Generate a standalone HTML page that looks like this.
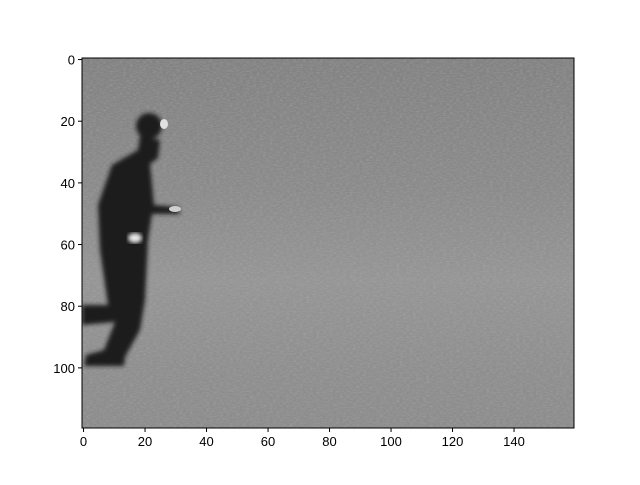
<!DOCTYPE html>
<html><head><meta charset="utf-8"><style>
body{margin:0;background:#fff;font-family:"Liberation Sans",sans-serif}
</style></head><body>
<svg width="640" height="480" xmlns="http://www.w3.org/2000/svg">
<defs>
<linearGradient id="bg" x1="0" y1="0" x2="0" y2="1">
<stop offset="0" stop-color="#828282"/><stop offset="0.35" stop-color="#8a8a8a"/>
<stop offset="0.6" stop-color="#959595"/><stop offset="0.85" stop-color="#8e8e8e"/><stop offset="1" stop-color="#8c8c8c"/>
</linearGradient>
<filter id="noise"><feTurbulence type="fractalNoise" baseFrequency="0.3 0.8" numOctaves="2" seed="3"/>
<feColorMatrix type="matrix" values="0 0 0 0 0.5 0 0 0 0 0.5 0 0 0 0 0.5 1.2 0 0 0 -0.45"/></filter>
<filter id="blur"><feGaussianBlur stdDeviation="2"/></filter>
<clipPath id="clip"><rect x="82" y="58" width="492" height="370"/></clipPath>
</defs>
<g clip-path="url(#clip)">
<rect x="82" y="58" width="492" height="370" fill="url(#bg)"/>
<rect x="82" y="58" width="492" height="370" filter="url(#noise)" opacity="0.5"/>
<g filter="url(#blur)" fill="#1e1e1e">
<ellipse cx="149" cy="126" rx="13" ry="13"/>
<path d="M140 136 L160 140 L158 158 L150 164 L154 205 L178 207 L180 214 L152 214 L148 240 L145 300 L140 330 L125 357 L124 366 L84 366 L86 355 L104 350 L115 322 L82 325 L82 305 L108 305 L100 250 L98 205 L112 165 L138 150 Z"/>
</g>
<ellipse cx="135" cy="238" rx="7" ry="5" fill="#e8e8e8" filter="url(#blur)"/>
<ellipse cx="164" cy="124" rx="4" ry="5" fill="#e0e0e0"/>
<ellipse cx="175" cy="209" rx="6" ry="3" fill="#cfcfcf"/>
</g>
<rect x="82" y="58" width="492" height="370" fill="none" stroke="#000" stroke-width="1"/>
<g id="ticks" font-size="13" fill="#000"></g>
<script>
const xTicks=[0,20,40,60,80,100,120,140];
const yTicks=[0,20,40,60,80,100];
const nCols=160, nRows=120;
const x0=82,x1=574,y0=58,y1=428;
const sx=v=>x0+(v+0.5)*(x1-x0)/nCols;
const sy=v=>y0+(v+0.5)*(y1-y0)/nRows;
const g=document.getElementById('ticks');
const NS='http://www.w3.org/2000/svg';
xTicks.forEach(v=>{
 const l=document.createElementNS(NS,'line');
 l.setAttribute('x1',sx(v));l.setAttribute('x2',sx(v));l.setAttribute('y1',y1);l.setAttribute('y2',y1+4);l.setAttribute('stroke','#000');
 
 
 g.appendChild(l);
 const t=document.createElementNS(NS,'text');
 t.setAttribute('x',sx(v));t.setAttribute('y',y1+18);t.setAttribute('text-anchor','middle');t.textContent=v;
 
 
 g.appendChild(t);
});
yTicks.forEach(v=>{
 const l=document.createElementNS(NS,'line');
 l.setAttribute('x1',x0-4);l.setAttribute('x2',x0);l.setAttribute('y1',sy(v));l.setAttribute('y2',sy(v));l.setAttribute('stroke','#000');
 
 
 g.appendChild(l);
 const t=document.createElementNS(NS,'text');
 t.setAttribute('x',x0-7);t.setAttribute('y',sy(v)+5);t.setAttribute('text-anchor','end');t.textContent=v;
 
 
 g.appendChild(t);
});
</script>
</svg>
</body></html>
